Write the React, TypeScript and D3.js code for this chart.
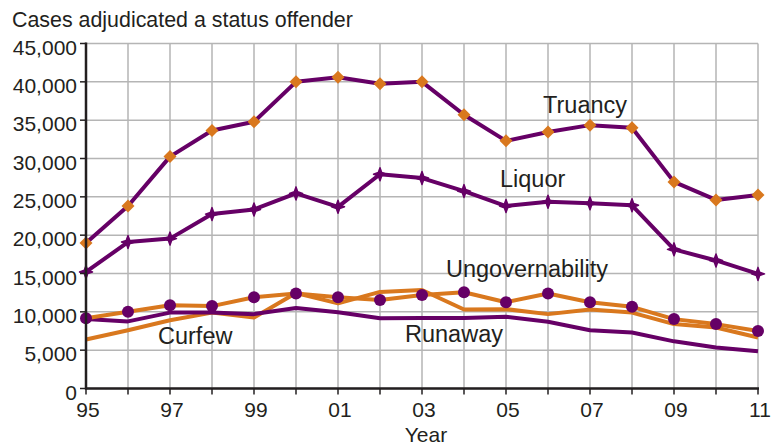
import React from "react";
import * as d3 from "d3";

const years = [1995,1996,1997,1998,1999,2000,2001,2002,2003,2004,2005,2006,2007,2008,2009,2010,2011];
const truancy = [18970,23800,30250,33650,34800,40000,40600,39750,40000,35700,32300,33450,34350,34000,26950,24600,25250];
const liquor = [15200,19100,19550,22750,23350,25450,23700,27950,27450,25750,23800,24350,24150,23900,18150,16700,14950];
const ungovernability = [9150,10000,10850,10750,11900,12400,11900,11550,12200,12550,11250,12400,11250,10650,9050,8400,7500];
const curfew = [6400,7600,8900,9900,9250,12450,11100,12600,12850,10300,10350,9700,10300,9900,8400,7950,6650];
const runaway = [9050,8750,9900,9900,9700,10500,9950,9150,9200,9200,9350,8700,7600,7300,6150,5350,4850];
const yTicks = [0,5000,10000,15000,20000,25000,30000,35000,40000,45000];
const xLabelYears = [1995,1997,1999,2001,2003,2005,2007,2009,2011];

const PURPLE = "#660066";
const ORANGE = "#d9781e";
const GRID = "#b5b5b5";
const TEXT = "#231f20";
const FONT = "'Liberation Sans', Arial, Helvetica, sans-serif";

export default function App() {
  const x = d3.scaleLinear().domain([1995, 2011]).range([86, 758]);
  const y = d3.scaleLinear().domain([0, 45000]).range([388.5, 43.5]);
  const line = d3.line<number>().x((_, i) => x(years[i])).y((d) => y(d));
  const fmt = d3.format(",");
  const star = (cx: number, cy: number) => {
    const R = 6.5, r = 2.4;
    const pts: [number, number][] = [];
    for (let k = 0; k < 8; k++) {
      const a = (k * Math.PI) / 4 - Math.PI / 2;
      const rad = k % 2 === 0 ? R : r;
      pts.push([cx + rad * Math.cos(a), cy + rad * Math.sin(a)]);
    }
    return "M" + pts.map((p) => p.join(",")).join("L") + "Z";
  };
  const diamond = (cx: number, cy: number) => {
    const s = 6.5;
    return `M${cx},${cy - s}L${cx + s},${cy}L${cx},${cy + s}L${cx - s},${cy}Z`;
  };

  return (
    <svg width={777} height={445} style={{ position: "absolute", left: 0, top: 0, background: "#fff" }} fontFamily={FONT}>
      <text x={12} y={27} fontSize={21.4} fill={TEXT}>Cases adjudicated a status offender</text>
      {/* grid */}
      {years.map((yr) => (
        <line key={"gx" + yr} x1={x(yr)} x2={x(yr)} y1={y(45000)} y2={y(0)} stroke={GRID} strokeWidth={1.5} />
      ))}
      {yTicks.map((t) => (
        <line key={"gy" + t} x1={x(1995)} x2={x(2011)} y1={y(t)} y2={y(t)} stroke={GRID} strokeWidth={1.5} />
      ))}
      {/* lines */}
      <path d={line(curfew) || ""} fill="none" stroke={ORANGE} strokeWidth={4} strokeLinejoin="round" />
      <path d={line(runaway) || ""} fill="none" stroke={PURPLE} strokeWidth={4} strokeLinejoin="round" />
      <path d={line(ungovernability) || ""} fill="none" stroke={ORANGE} strokeWidth={4} strokeLinejoin="round" />
      <path d={line(liquor) || ""} fill="none" stroke={PURPLE} strokeWidth={4} strokeLinejoin="round" />
      <path d={line(truancy) || ""} fill="none" stroke={PURPLE} strokeWidth={4} strokeLinejoin="round" />
      {ungovernability.map((v, i) => (
        <circle key={"c" + i} cx={x(years[i])} cy={y(v)} r={6} fill={PURPLE} />
      ))}
      {liquor.map((v, i) => (
        <path key={"s" + i} d={star(x(years[i]), y(v))} fill={PURPLE} stroke={PURPLE} strokeWidth={1.5} strokeLinejoin="round" />
      ))}
      {truancy.map((v, i) => (
        <path key={"d" + i} d={diamond(x(years[i]), y(v))} fill={ORANGE} />
      ))}
      {/* axes */}
      <line x1={86} x2={86} y1={y(45000) - 1} y2={y(0) + 1} stroke={TEXT} strokeWidth={2.5} />
      <line x1={85} x2={x(2011) + 1} y1={y(0)} y2={y(0)} stroke={TEXT} strokeWidth={2.5} />
      {yTicks.map((t) => (
        <g key={"yt" + t}>
          <line x1={80} x2={86} y1={y(t)} y2={y(t)} stroke={TEXT} strokeWidth={1.5} />
          <text x={77} y={y(t) + 11} textAnchor="end" fontSize={21} fill={TEXT}>{fmt(t)}</text>
        </g>
      ))}
      {years.map((yr) => (
        <line key={"xt" + yr} x1={x(yr)} x2={x(yr)} y1={y(0)} y2={y(0) + 6} stroke={TEXT} strokeWidth={1.5} />
      ))}
      {xLabelYears.map((yr) => (
        <text key={"xl" + yr} x={x(yr) + 2} y={417} textAnchor="middle" fontSize={21} fill={TEXT}>
          {String(yr).slice(2)}
        </text>
      ))}
      <text x={426} y={442} textAnchor="middle" fontSize={21} fill={TEXT}>Year</text>
      {/* series labels */}
      <text x={543} y={113} fontSize={23.5} fill={TEXT}>Truancy</text>
      <text x={500} y={187} fontSize={23.5} fill={TEXT}>Liquor</text>
      <text x={446} y={277} fontSize={23.5} fill={TEXT}>Ungovernability</text>
      <text x={405} y={342} fontSize={23.5} fill={TEXT}>Runaway</text>
      <text x={158} y={344} fontSize={23.5} fill={TEXT}>Curfew</text>
    </svg>
  );
}
